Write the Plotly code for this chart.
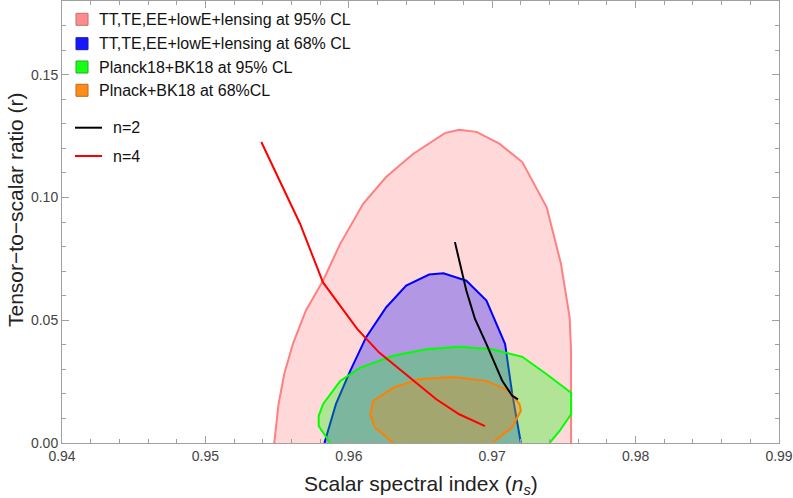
import plotly.graph_objects as go

# ---------------- data ----------------
tt95_ns = [0.9548, 0.9551, 0.9555, 0.9561, 0.9570, 0.9582, 0.9594, 0.9610, 0.9626,
           0.9645, 0.9667, 0.9677, 0.9689, 0.9705, 0.9721, 0.9738, 0.9748, 0.9754,
           0.9755, 0.9755]
tt95_r = [0.0, 0.0158, 0.0282, 0.0403, 0.0539, 0.0661, 0.0811, 0.0974, 0.1083,
          0.1178, 0.1262, 0.1276, 0.1267, 0.1219, 0.1144, 0.0960, 0.0729, 0.0511,
          0.0376, 0.0]

tt68_ns = [0.9583, 0.9591, 0.9601, 0.9612, 0.9626, 0.9640, 0.9656, 0.9666, 0.9682,
           0.9696, 0.9709, 0.9714, 0.9720]
tt68_r = [0.0, 0.0158, 0.0294, 0.0430, 0.0552, 0.0641, 0.0686, 0.0691, 0.0661,
          0.0580, 0.0403, 0.0199, 0.0]

bk95_ns = [0.9587, 0.9579, 0.9579, 0.9582, 0.9594, 0.9608, 0.9631, 0.9654, 0.9677,
           0.9700, 0.9721, 0.9738, 0.9755, 0.9755, 0.9747, 0.9740]
bk95_r = [0.0, 0.0069, 0.0110, 0.0158, 0.0253, 0.0307, 0.0355, 0.0382, 0.0392,
          0.0382, 0.0351, 0.0280, 0.0205, 0.0117, 0.0049, 0.0]

bk68_ns = [0.9631, 0.9618, 0.9615, 0.9617, 0.9631, 0.9649, 0.9673, 0.9696, 0.9712,
           0.9719, 0.9720, 0.9714, 0.9700]
bk68_r = [0.0, 0.0065, 0.0117, 0.0171, 0.0225, 0.0260, 0.0269, 0.0253, 0.0212,
          0.0158, 0.0131, 0.0065, 0.0]

n2_ns = [0.9674, 0.9678, 0.9682, 0.9688, 0.9696, 0.9707, 0.9714, 0.9718]
n2_r = [0.0818, 0.0716, 0.0620, 0.0505, 0.0403, 0.0253, 0.0192, 0.0178]

n4_ns = [0.9539, 0.9552, 0.9566, 0.9582, 0.9594, 0.9606, 0.9621, 0.9640, 0.9661,
         0.9677, 0.9695]
n4_r = [0.1226, 0.1069, 0.0893, 0.0654, 0.0559, 0.0464, 0.0369, 0.0280, 0.0178,
        0.0117, 0.0069]

region_labels = ["TT,TE,EE+lowE+lensing at 95% CL",
                 "TT,TE,EE+lowE+lensing at 68% CL",
                 "Planck18+BK18 at 95% CL",
                 "Plnack+BK18 at 68%CL"]
line_labels = ["n=2", "n=4"]

x_ticks = [0.94, 0.95, 0.96, 0.97, 0.98, 0.99]
y_ticks = [0.00, 0.05, 0.10, 0.15]

# ---------------- styling ----------------
W, H = 793, 498
L, R, T, B = 62, 14, 1, 55
PW, PH = W - L - R, H - T - B
FONT = "Liberation Sans, Arial, sans-serif"
FRAME = "#a0a0a0"

def pxx(x):
    return (x - L) / PW

def pxy(y):
    return (H - B - y) / PH

regions = [
    (tt95_ns, tt95_r, "rgb(255,128,128)", "rgba(255,128,128,0.3)", "rgb(190,95,95)"),
    (tt68_ns, tt68_r, "rgb(0,0,255)", "rgba(0,0,255,0.3)", "rgb(0,0,170)"),
    (bk95_ns, bk95_r, "rgb(0,255,0)", "rgba(0,255,0,0.3)", "rgb(0,170,0)"),
    (bk68_ns, bk68_r, "rgb(255,128,0)", "rgba(255,128,0,0.3)", "rgb(180,90,0)"),
]
lines = [
    (n2_ns, n2_r, "black"),
    (n4_ns, n4_r, "rgb(255,0,0)"),
]

fig = go.Figure()
for xs, ys, lc, fc, _ in regions:
    fig.add_trace(go.Scatter(x=xs, y=ys, mode="lines", fill="toself",
                             fillcolor=fc, line=dict(color=lc, width=2),
                             showlegend=False, hoverinfo="skip"))
for xs, ys, lc in lines:
    fig.add_trace(go.Scatter(x=xs, y=ys, mode="lines",
                             line=dict(color=lc, width=2),
                             showlegend=False, hoverinfo="skip"))

# ---------------- manual legend ----------------
shapes = []
annotations = []
sw_y = [19.3, 43.7, 67.0, 90.3]
for (xs, ys, lc, fc, ec), label, yy in zip(regions, region_labels, sw_y):
    shapes.append(dict(type="rect", xref="paper", yref="paper",
                       x0=pxx(76), x1=pxx(88), y0=pxy(yy + 6), y1=pxy(yy - 6),
                       fillcolor=lc, opacity=0.9, line=dict(color=ec, width=1)))
    annotations.append(dict(text=label, xref="paper", yref="paper",
                            x=pxx(97), y=pxy(yy), xanchor="left", yanchor="middle",
                            showarrow=False, font=dict(family=FONT, size=16, color="#111")))
ln_y = [127.7, 156.0]
for (xs, ys, lc), label, yy in zip(lines, line_labels, ln_y):
    shapes.append(dict(type="line", xref="paper", yref="paper",
                       x0=pxx(75), x1=pxx(102), y0=pxy(yy), y1=pxy(yy),
                       line=dict(color=lc, width=2)))
    annotations.append(dict(text=label, xref="paper", yref="paper",
                            x=pxx(111), y=pxy(yy), xanchor="left", yanchor="middle",
                            showarrow=False, font=dict(family=FONT, size=16, color="#111")))

# axis titles
annotations.append(dict(text="Scalar spectral index (<i>n</i><sub><i>s</i></sub>)",
                        xref="paper", yref="paper", x=0.5, y=pxy(485),
                        xanchor="center", yanchor="middle", showarrow=False,
                        font=dict(family=FONT, size=21, color="#222")))
annotations.append(dict(text="Tensor\u2212to\u2212scalar ratio (r)",
                        xref="paper", yref="paper", x=pxx(15), y=pxy(210),
                        xanchor="center", yanchor="middle", textangle=-90,
                        showarrow=False,
                        font=dict(family=FONT, size=21, color="#222")))

axis_common = dict(showgrid=False, zeroline=False, showline=True, linecolor=FRAME,
                   linewidth=1, mirror="ticks", ticks="inside", tickcolor=FRAME,
                   ticklen=7, tickwidth=1, tickformat=".2f",
                   tickfont=dict(family=FONT, size=14, color="#444"))

fig.update_xaxes(range=[0.94, 0.99], tickvals=x_ticks,
                 minor=dict(ticks="inside", ticklen=4, dtick=0.002, tick0=0.94,
                            tickcolor=FRAME, showgrid=False),
                 **axis_common)
fig.update_yaxes(range=[0, 0.18], tickvals=y_ticks,
                 minor=dict(ticks="inside", ticklen=4, dtick=0.01, tick0=0.0,
                            tickcolor=FRAME, showgrid=False),
                 **axis_common)

fig.update_layout(width=W, height=H, margin=dict(l=L, r=R, t=T, b=B, autoexpand=False),
                  paper_bgcolor="white", plot_bgcolor="white",
                  shapes=shapes, annotations=annotations, showlegend=False,
                  font=dict(family=FONT))

fig.write_html("out.html", config={"displayModeBar": False},
               post_script="document.body.style.margin='0px';document.body.style.overflow='hidden';")
